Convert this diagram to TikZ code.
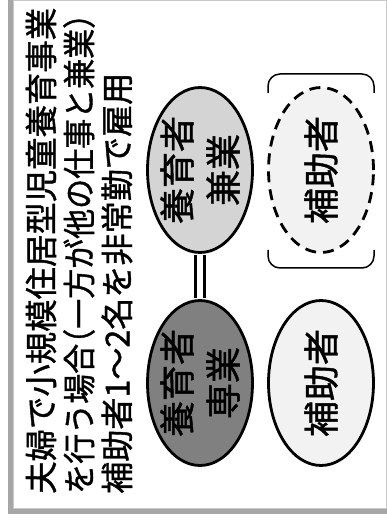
\documentclass[tikz,border=0pt]{standalone}
\usepackage{fontspec}
\setmainfont{Noto Sans CJK JP}[FakeBold=1.2]
\usepackage{graphicx}
\usetikzlibrary{shapes.geometric}
\definecolor{framegray}{HTML}{A6A6A6}
\definecolor{edgegray}{HTML}{C8C8C8}
\definecolor{darkfill}{HTML}{808080}
\definecolor{lightfill}{HTML}{D4D4D4}
\definecolor{paler}{HTML}{F2F2F2}
\begin{document}
\begin{tikzpicture}[x=1pt,y=1pt,
  oval/.style={ellipse, draw=black, line width=2.8pt, minimum width=105pt, minimum height=165pt, inner sep=0pt},
  ovaltext/.style={rotate=90, align=center, inner sep=0pt, font=\fontsize{36}{46}\selectfont},
  headline/.style={rotate=90, anchor=west, inner sep=0pt, font=\fontsize{33}{33}\selectfont},
  bracket/.style={line width=1.5pt, rounded corners=12pt},
  link/.style={line width=3.2pt, double=white, double distance=6pt, shorten >=1.4pt, shorten <=1.4pt}]
\useasboundingbox (0,0) rectangle (387,520);
\fill[white] (0,0) rectangle (387,520);
\fill[framegray] (8,6) rectangle (386.5,520);
\filldraw[fill=white, draw=edgegray, line width=1pt] (13.5,11) rectangle (386,519.3);
% heading, three lines
\node[headline] (l1) at (41,26) {\resizebox{486pt}{\height}{夫婦で小規模住居型児童養育事業}};
\node[headline] (l2) at (79,26) {\resizebox{480pt}{\height}{を行う場合\makebox[0.5em][r]{（}一方が他の仕事と兼業\makebox[0.5em][l]{）}}};
\node[headline] (l3) at (117,26) {\resizebox{421pt}{\height}{補助者1～2名を非常勤で雇用}};
% ovals
\node[oval, fill=lightfill] (kengyo) at (200,350) {};
\node[oval, fill=darkfill] (sengyo) at (200,137) {};
\node[oval, fill=paler, dashed, dash pattern=on 11pt off 7pt] (hojo1) at (321,350) {};
\node[oval, fill=paler] (hojo2) at (321,137) {};
\node[ovaltext] (tkengyo) at (kengyo) {養育者\\兼業};
\node[ovaltext] (tsengyo) at (sengyo) {養育者\\専業};
\node[ovaltext] (thojo1) at (hojo1) {補助者};
\node[ovaltext] (thojo2) at (hojo2) {補助者};
\draw[link] (kengyo.south) -- (sengyo.north);
% brackets around the dashed oval
\draw[bracket] (268,427) -- (268,446) -- (374,446) -- (374,427);
\draw[bracket] (268,270) -- (268,252) -- (374,252) -- (374,270);
\end{tikzpicture}
\end{document}
